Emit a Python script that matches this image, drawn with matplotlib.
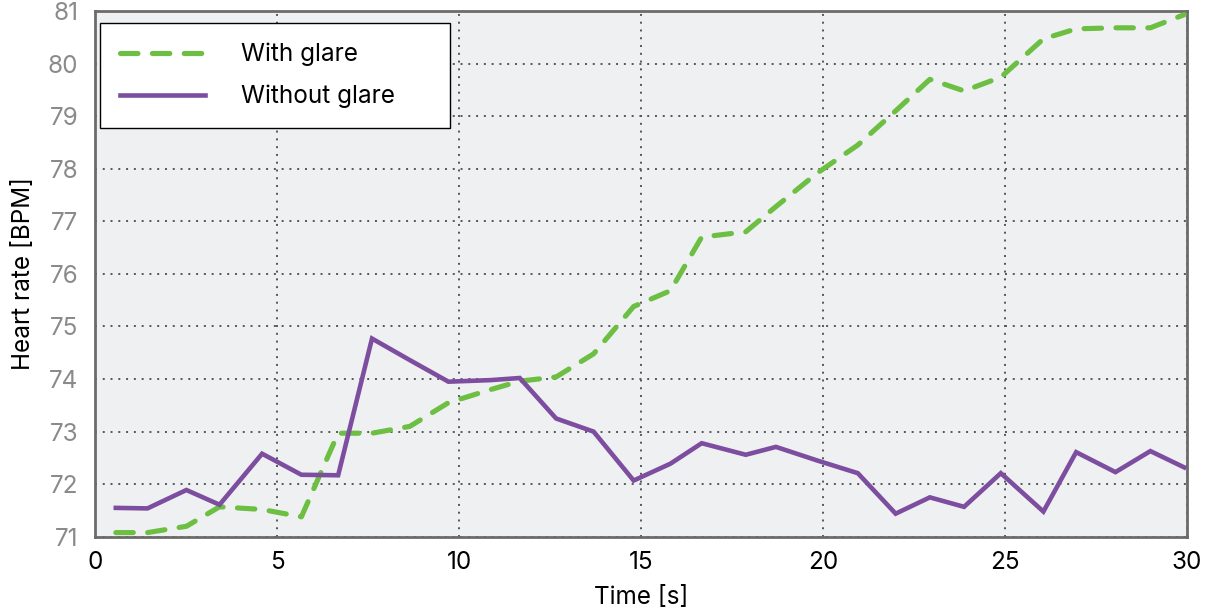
"""
Heart rate over time, measured with and without glare.
"""

import matplotlib
matplotlib.use("Agg")
import matplotlib.pyplot as plt

# sample timestamps [s]
time_s = [0.57, 1.44, 2.51, 3.42, 4.59, 5.67, 6.68, 7.61, 8.65, 9.71,
          10.87, 11.67, 12.67, 13.70, 14.80, 15.81, 16.67, 17.88, 18.71, 19.85,
          20.96, 22.00, 22.94, 23.88, 24.89, 26.06, 26.96, 28.04, 29.00, 29.93]

# heart rate with glare [BPM]
hr_glare = [71.08, 71.08, 71.20, 71.57, 71.52, 71.38, 72.97, 72.97, 73.10, 73.55,
            73.80, 73.96, 74.04, 74.48, 75.38, 75.68, 76.70, 76.80, 77.28, 77.92,
            78.45, 79.10, 79.70, 79.48, 79.74, 80.47, 80.66, 80.68, 80.68, 80.93]

# heart rate without glare [BPM]
hr_no_glare = [71.55, 71.54, 71.89, 71.61, 72.58, 72.18, 72.17, 74.77, 74.36, 73.95,
               73.98, 74.02, 73.25, 73.00, 72.07, 72.39, 72.78, 72.56, 72.71, 72.45,
               72.21, 71.44, 71.75, 71.57, 72.21, 71.48, 72.61, 72.23, 72.63, 72.32]

x_ticks = [0, 5, 10, 15, 20, 25, 30]
y_ticks = [71, 72, 73, 74, 75, 76, 77, 78, 79, 80, 81]

GREEN = "#6cbf43"
PURPLE = "#7d4e9f"

plt.rcParams["font.family"] = ["Inter", "DejaVu Sans"]

fig = plt.figure(figsize=(12.11, 6.10), dpi=100)
ax = fig.add_axes([0.0785, 0.12, 0.9015, 0.862])
ax.set_facecolor("#eff0f2")

ax.plot(time_s, hr_glare, color=GREEN, lw=3.7, linestyle=(0, (3.4, 2.8)),
        dash_capstyle="round", label="With glare", zorder=3)
ax.plot(time_s, hr_no_glare, color=PURPLE, lw=3.3, solid_joinstyle="miter",
        label="Without glare", zorder=4)

ax.set_xlim(0, 30)
ax.set_ylim(71, 81)
ax.set_xticks(x_ticks)
ax.set_yticks(y_ticks)
ax.tick_params(length=0, labelsize=17.5)
ax.tick_params(axis="y", labelcolor="#8a8a8a", pad=12)
ax.tick_params(axis="x", labelcolor="black", pad=10)

ax.grid(True, color="#555555", linestyle=(0, (1, 3)), linewidth=1.4)
ax.set_axisbelow(True)
for spine in ax.spines.values():
    spine.set_color("#6b6b6b")
    spine.set_linewidth(2)

ax.set_xlabel("Time [s]", fontsize=17.5, labelpad=9)
ax.set_ylabel("Heart rate [BPM]", fontsize=17.5, labelpad=9)

leg = ax.legend(loc="upper left", bbox_to_anchor=(0.0046, 0.0, 0.3205, 0.977),
                mode="expand", borderaxespad=0, fontsize=17.5, fancybox=False,
                framealpha=1, edgecolor="black", handlelength=3.5,
                handletextpad=1.5, labelspacing=0.78, borderpad=0.8)
leg.get_frame().set_linewidth(1.0)

fig.savefig("out.png", dpi=100)
